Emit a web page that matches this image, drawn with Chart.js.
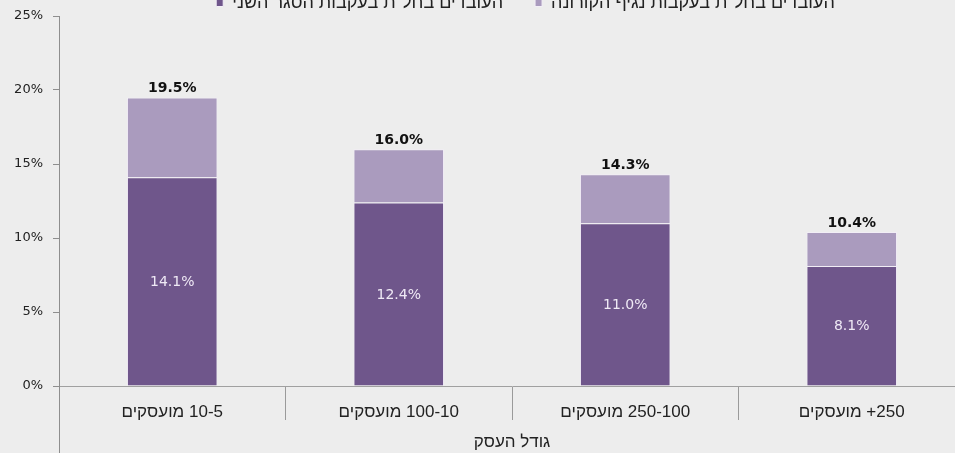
<!DOCTYPE html>
<html>
<head>
<meta charset="utf-8">
<script src="https://cdn.jsdelivr.net/npm/chart.js@4.4.1/dist/chart.umd.min.js"></script>
<style>
  html, body { margin: 0; padding: 0; background: #ededed; overflow: hidden; width: 955px; height: 453px; }
  #wrap { position: absolute; left: 0; top: -10px; }
</style>
</head>
<body>
<div id="wrap"><canvas id="chart" width="1000" height="463"></canvas></div>
<script>
/* global Chart */
const sizes = ["10-5", "100-10", "250-100", "+250"];
const secondLockdown = [14.1, 12.4, 11.0, 8.1];
const coronaWave = [5.4, 3.6, 3.3, 2.3];
const yTicks = [0, 5, 10, 15, 20, 25];
const seriesNames = [
  'העובדים בחל"ת בעקבות הסגר השני',
  'העובדים בחל"ת בעקבות נגיף הקורונה',
];
const axisTitle = "גודל העסק";

const DARK = "#6f568b";
const LIGHT = "#aa9bbe";
const HEB = '"Liberation Sans", Arial';

// LRM keeps the hebrew word on the left of the number like the original
const labels = sizes.map((s) => "מועסקים\u200E " + s);

const valueLabels = {
  id: "valueLabels",
  afterDatasetsDraw(chart) {
    const ctx = chart.ctx;
    const inner = chart.getDatasetMeta(0).data;
    const outer = chart.getDatasetMeta(1).data;
    ctx.save();
    ctx.textAlign = "center";
    inner.forEach((bar, i) => {
      ctx.font = '14px "DejaVu Sans"';
      ctx.fillStyle = "#efe9f5";
      ctx.textBaseline = "middle";
      ctx.fillText(secondLockdown[i].toFixed(1) + "%", bar.x, (bar.y + bar.base) / 2 + 1);
      const total = secondLockdown[i] + coronaWave[i];
      ctx.font = 'bold 14px "DejaVu Sans"';
      ctx.fillStyle = "#111";
      ctx.textBaseline = "alphabetic";
      ctx.fillText(total.toFixed(1) + "%", outer[i].x, outer[i].y - 5);
    });
    ctx.restore();
  },
};

// legend sits a bit right of the canvas center and half cut at the top;
// the left axis line runs on to the bottom edge
const layoutTweaks = {
  id: "layoutTweaks",
  afterLayout(chart) {
    chart.legend.left += 43;
    chart.legend.right += 43;
    chart.legend.top += 6;
    chart.legend.bottom += 6;
  },
  afterDraw(chart) {
    const ctx = chart.ctx;
    const a = chart.chartArea;
    ctx.save();
    ctx.strokeStyle = "#8e8e8e";
    ctx.lineWidth = 1;
    ctx.beginPath();
    ctx.moveTo(a.left + 0.5, a.bottom);
    ctx.lineTo(a.left + 0.5, chart.height);
    ctx.stroke();
    ctx.restore();
  },
};

new Chart(document.getElementById("chart"), {
  type: "bar",
  data: {
    labels,
    datasets: [
      {
        label: seriesNames[0] + "      ",
        data: secondLockdown,
        backgroundColor: DARK,
        borderColor: "#f2eef6",
        borderWidth: 1,
      },
      {
        label: seriesNames[1],
        data: coronaWave,
        backgroundColor: LIGHT,
        borderColor: "#f2eef6",
        borderWidth: 1,
      },
    ],
  },
  options: {
    responsive: false,
    animation: false,
    datasets: { bar: { categoryPercentage: 1, barPercentage: 0.4 } },
    layout: { padding: { top: -4, right: 35, bottom: 0, left: 0 } },
    plugins: {
      tooltip: { enabled: false },
      legend: {
        position: "top",
        labels: {
          boxWidth: 7,
          boxHeight: 7,
          padding: 2,
          color: "#222",
          font: { family: HEB, size: 18 },
        },
      },
    },
    scales: {
      x: {
        stacked: true,
        afterFit(scale) {
          scale.height = 67;
        },
        grid: {
          offset: true,
          drawOnChartArea: false,
          tickLength: 34,
          tickColor: "#9a9a9a",
          color: "#9a9a9a",
        },
        border: { color: "#a0a0a0" },
        ticks: {
          padding: -18,
          color: "#222",
          font: { family: HEB, size: 17 },
        },
        title: {
          display: true,
          text: axisTitle,
          color: "#222",
          padding: { top: 4, bottom: 0 },
          font: { family: HEB, size: 17 },
        },
      },
      y: {
        stacked: true,
        min: 0,
        max: 25,
        afterFit(scale) {
          scale.width = 59;
        },
        afterBuildTicks(scale) {
          scale.ticks = yTicks.map((v) => ({ value: v }));
        },
        grid: { drawOnChartArea: false, tickLength: 6, tickColor: "#8e8e8e" },
        border: { color: "#8e8e8e" },
        ticks: {
          padding: 10,
          color: "#222",
          font: { family: '"DejaVu Sans"', size: 13 },
          callback: (v) => v + "%",
        },
      },
    },
  },
  plugins: [valueLabels, layoutTweaks],
});
</script>
</body>
</html>
